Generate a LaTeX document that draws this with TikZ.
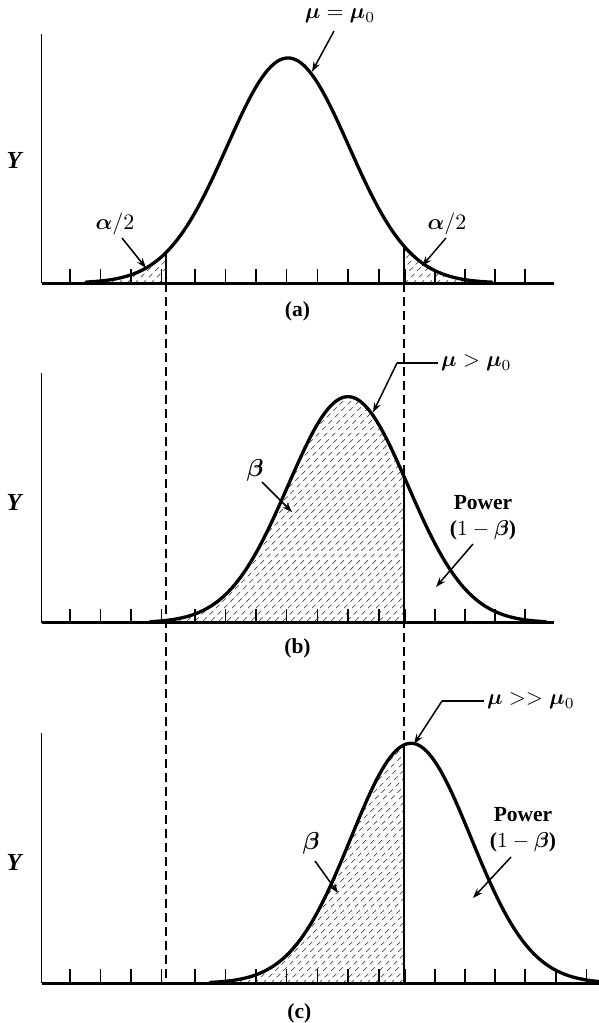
\documentclass[tikz,border=0pt]{standalone}
\usepackage{bm}
\usepackage{fontspec}
\setmainfont{Liberation Serif}
\usetikzlibrary{arrows.meta}
\newcommand{\Lbl}[1]{\scalebox{2.15}{#1}}
\newcommand{\Mlbl}[1]{\scalebox{2.45}{#1}}
\newcommand{\Mulbl}[1]{\scalebox{2.2}{#1}}
\tikzset{
 curve/.style={line width=3.3pt, line join=round, line cap=round},
 yaxis/.style={line width=1.8pt},
 baseln/.style={line width=3pt},
 tickmark/.style={line width=1.1pt},
 crit/.style={line width=1.6pt, dash pattern=on 9pt off 5pt},
 critsolid/.style={line width=1.3pt},
 ptr/.style={line width=1.5pt, -{Stealth[length=10pt,width=7pt]}},
 lead/.style={line width=1.5pt},
 lbl/.style={font=\bfseries, inner sep=0pt},
 hatch/.style={line width=0.7pt, dash pattern=on 5pt off 4pt, black!70},
}
\begin{document}
\begin{tikzpicture}[x=1pt,y=-1pt]
\useasboundingbox (0,0) rectangle (599,1023);
% ---------- panel (a)
\def\ma{288}\def\sa{61}\def\ha{225}\def\ba{283}
\begin{scope}
 \clip plot[domain=88:166,samples=40] (\x,{\ba-\ha*exp(-((\x-\ma)/\sa)^2/2)}) -- (166,\ba) -- (88,\ba) -- cycle;
 \foreach \i in {330,338,...,470} \draw[hatch] (\i,0) -- ++(-600,600);
\end{scope}
\begin{scope}
 \clip plot[domain=404:490,samples=40] (\x,{\ba-\ha*exp(-((\x-\ma)/\sa)^2/2)}) -- (490,\ba) -- (404,\ba) -- cycle;
 \foreach \i in {640,648,...,780} \draw[hatch] (\i,0) -- ++(-600,600);
\end{scope}
\draw[yaxis] (41.5,34) -- (41.5,\ba);
\foreach \t in {70,100.5,131,161.5,195,225.5,256,286.5,317.5,348,379,405,435,465,495,525}
  \draw[tickmark] (\t,\ba) -- ++(0,-14);
\draw[baseln] (41.5,\ba) -- (554,\ba);
\draw[curve] plot[domain=86:492,samples=150] (\x,{\ba-\ha*exp(-((\x-\ma)/\sa)^2/2)});
\draw[critsolid] (166,\ba) -- (166,{\ba-\ha*exp(-((166-\ma)/\sa)^2/2)});
\draw[critsolid] (404,\ba) -- (404,{\ba-\ha*exp(-((404-\ma)/\sa)^2/2)});
\node[lbl] (Ya) at (15,160) {\Mlbl{\textit{Y}}};
\node[lbl] (mua) at (340,16) {\Mulbl{$\bm{\mu}=\bm{\mu}_0$}};
\coordinate (mua-tip) at (312,{\ba-\ha*exp(-((312-\ma)/\sa)^2/2)-3});
\coordinate (mua-tail) at (334,31);
\draw[ptr] (mua-tail) -- (mua-tip);
\node[lbl] (ala) at (115,224) {\Mulbl{$\bm{\alpha}/2$}};
\node[lbl] (alb) at (447,224) {\Mulbl{$\bm{\alpha}/2$}};
\coordinate (ala-tip) at (146,268);
\coordinate (alb-tip) at (422,266);
\coordinate (ala-tail) at (122,238);
\coordinate (alb-tail) at (446,238);
\draw[ptr] (ala-tail) -- (ala-tip);
\draw[ptr] (alb-tail) -- (alb-tip);
\node[lbl] (capa) at (297.5,311) {\Lbl{(a)}};
% ---------- panel (b)
\def\mb{348}\def\sb{60}\def\hb{226}\def\bb{622.7}
\begin{scope}
 \clip plot[domain=150:404,samples=80] (\x,{\bb-\hb*exp(-((\x-\mb)/\sb)^2/2)}) -- (404,\bb) -- (150,\bb) -- cycle;
 \foreach \i in {560,568,...,1040} \draw[hatch] (\i,0) -- ++(-1100,1100);
\end{scope}
\draw[yaxis] (41.5,373) -- (41.5,\bb);
\foreach \t in {70,100.5,131,161.5,195,225.5,256,286.5,317.5,348,379,405,435,465,495,525}
  \draw[tickmark] (\t,\bb) -- ++(0,-14);
\draw[baseln] (41.5,\bb) -- (554,\bb);
\draw[curve] plot[domain=150:546,samples=150] (\x,{\bb-\hb*exp(-((\x-\mb)/\sb)^2/2)});
\draw[critsolid] (404,\bb) -- (404,{\bb-\hb*exp(-((404-\mb)/\sb)^2/2)});
\node[lbl] (Yb) at (15,502) {\Mlbl{\textit{Y}}};
\node[lbl,anchor=west] (mub) at (441,363) {\Mulbl{$\bm{\mu}>\bm{\mu}_0$}};
\coordinate (mub-knee) at (397,363);
\coordinate (mub-tip) at (373,{\bb-\hb*exp(-((373-\mb)/\sb)^2/2)-3});
\draw[lead] (mub.west) ++(-3,0) -- (mub-knee);
\draw[ptr] (mub-knee) -- (mub-tip);
\node[lbl] (betab) at (255,470) {\Mlbl{$\bm{\beta}$}};
\coordinate (betab-tip) at (292,512);
\coordinate (betab-tail) at (262,482);
\draw[ptr] (betab-tail) -- (betab-tip);
\node[lbl] (powb) at (483,517) {\Lbl{\begin{tabular}{@{}c@{}}Power\\($1-\bm{\beta}$)\end{tabular}}};
\coordinate (powb-tip) at (436,587);
\coordinate (powb-tail) at (473,544);
\draw[ptr] (powb-tail) -- (powb-tip);
\node[lbl] (capb) at (297.5,648) {\Lbl{(b)}};
% ---------- panel (c)
\def\mc{411}\def\sc{60}\def\hc{240}\def\bc{983.3}
\begin{scope}
 \clip plot[domain=210:404,samples=80] (\x,{\bc-\hc*exp(-((\x-\mc)/\sc)^2/2)}) -- (404,\bc) -- (210,\bc) -- cycle;
 \foreach \i in {950,958,...,1400} \draw[hatch] (\i,0) -- ++(-1100,1100);
\end{scope}
\draw[yaxis] (41.5,733) -- (41.5,\bc);
\foreach \t in {70,100.5,131,161.5,195,225.5,256,286.5,317.5,348,379,405,435,465,495,525,556,586.5}
  \draw[tickmark] (\t,\bc) -- ++(0,-14);
\draw[baseln] (41.5,\bc) -- (599,\bc);
\draw[curve] plot[domain=210:599,samples=150] (\x,{\bc-\hc*exp(-((\x-\mc)/\sc)^2/2)});
\draw[critsolid] (404,\bc) -- (404,{\bc-\hc*exp(-((404-\mc)/\sc)^2/2)});
\node[lbl] (Yc) at (15,862) {\Mlbl{\textit{Y}}};
\node[lbl,anchor=west] (muc) at (487,701) {\Mulbl{$\bm{\mu}>>\bm{\mu}_0$}};
\coordinate (muc-knee) at (442,701);
\coordinate (muc-tip) at (414,744);
\draw[lead] (muc.west) ++(-3,0) -- (muc-knee);
\draw[ptr] (muc-knee) -- (muc-tip);
\node[lbl] (betac) at (311,843) {\Mlbl{$\bm{\beta}$}};
\coordinate (betac-tip) at (338,893);
\coordinate (betac-tail) at (315,861);
\draw[ptr] (betac-tail) -- (betac-tip);
\node[lbl] (powc) at (523,829) {\Lbl{\begin{tabular}{@{}c@{}}Power\\($1-\bm{\beta}$)\end{tabular}}};
\coordinate (powc-tip) at (473,898);
\coordinate (powc-tail) at (511,857);
\draw[ptr] (powc-tail) -- (powc-tip);
\node[lbl] (capc) at (299.4,1013) {\Lbl{(c)}};
% ---------- critical lines through all panels
\coordinate (cl-top) at (166,283);
\coordinate (cl-bot) at (166,983.3);
\coordinate (cr-top) at (404,283);
\coordinate (cr-bot) at (404,983.3);
\draw[crit] (cl-top) -- (cl-bot);
\draw[crit] (cr-top) -- (cr-bot);
\end{tikzpicture}
\end{document}
